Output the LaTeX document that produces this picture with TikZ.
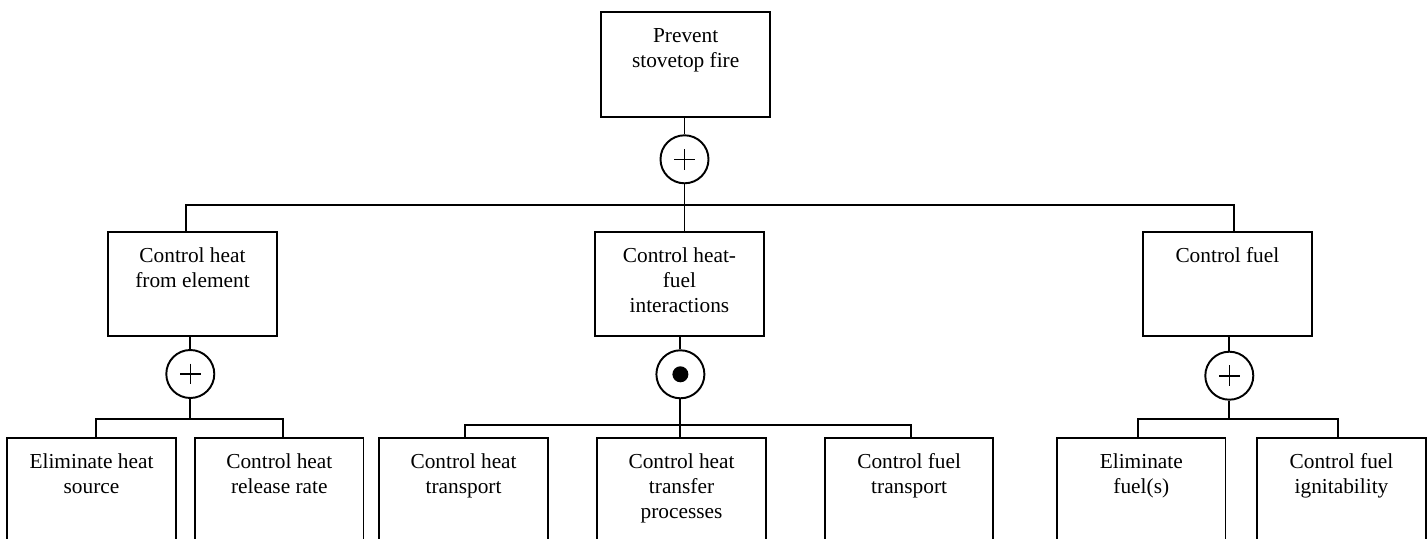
\documentclass[tikz,border=0pt]{standalone}
\usepackage{fontspec}
\setmainfont{Liberation Serif}
\newcommand\goalfont{\fontsize{16}{18.75}\selectfont}
\begin{document}
\begin{tikzpicture}[x=0.75pt, y=-0.75pt, line width=1.45pt,
  goal/.style={draw, rectangle, minimum width=126.3pt, minimum height=78pt, inner sep=0pt},
  goaltext/.style={anchor=north, inner sep=0pt, align=center, font=\goalfont},
  gate/.style={draw, circle, minimum size=36pt, inner sep=0pt},
  ]
\useasboundingbox (0,0) rectangle (1428,539);
\clip (0,0) rectangle (1428,539);

% top goal
\node[goal, minimum height=78.5pt] (T) at (685.65,64.35) {};
\node[goaltext] (Tt) at ([yshift=-9.7pt]T.north) {\strut Prevent\\stovetop fire};
\node[gate] (C0) at (684.5,159.3) {};

% first-level goals
\node[goal] (L) at (192.5,284.15) {};
\node[goal] (M) at (679.45,284.15) {};
\node[goal] (R) at (1227.35,284.15) {};
\node[goaltext] (Lt) at ([yshift=-9.7pt]L.north) {\strut Control heat\\from element};
\node[goaltext] (Mt) at ([yshift=-9.7pt]M.north) {\strut Control heat-\\fuel\\interactions};
\node[goaltext] (Rt) at ([yshift=-9.7pt]R.north) {\strut Control fuel};

\node[gate] (G1) at (190.3,374) {};
\node[gate] (G2) at (680.4,374.3) {};
\node[gate] (G3) at (1229.3,375.7) {};

% second-level goals
\node[goal] (A) at (91.5,490.3) {};
\node[goal] (B) at (279.3,490.3) {};
\node[goal] (C) at (463.6,490.3) {};
\node[goal] (D) at (681.55,490.3) {};
\node[goal] (E) at (909.15,490.3) {};
\node[goal] (F) at (1141.3,490.3) {};
\node[goal] (G) at (1341.5,490.3) {};
\node[goaltext] (At) at ([yshift=-9.7pt]A.north) {\strut Eliminate heat\\source};
\node[goaltext] (Bt) at ([yshift=-9.7pt]B.north) {\strut Control heat\\release rate};
\node[goaltext] (Ct) at ([yshift=-9.7pt]C.north) {\strut Control heat\\transport};
\node[goaltext] (Dt) at ([yshift=-9.7pt]D.north) {\strut Control heat\\transfer\\processes};
\node[goaltext] (Et) at ([yshift=-9.7pt]E.north) {\strut Control fuel\\transport};
\node[goaltext] (Ft) at ([yshift=-9.7pt]F.north) {\strut Eliminate\\fuel(s)};
\node[goaltext] (Gt) at ([yshift=-9.7pt]G.north) {\strut Control fuel\\ignitability};

% gate symbols
\foreach \g in {C0,G1,G3}{
  \draw[line width=1.2pt] (\g.center) +(-10.3,0) -- +(10.3,0);
  \draw[line width=1.2pt] (\g.center) +(0,-10.3) -- +(0,10.3);
}
\fill (G2.center) circle[radius=6pt];

% bus coordinates
\coordinate (b1L) at (186,205);
\coordinate (b1M) at (684.5,205);
\coordinate (b1R) at (1233.7,205);
\coordinate (b2La) at (96.3,419.3);
\coordinate (b2Lb) at (282.7,419.3);
\coordinate (b2Ma) at (465.4,425.3);
\coordinate (b2Mc) at (911.2,425.3);
\coordinate (b2Ra) at (1138,419.3);
\coordinate (b2Rb) at (1338,419.3);

% top level connectors
\draw (T.south -| C0) -- (C0.north);
\draw (C0.south) -- (b1M) -- (b1M |- M.north);
\draw (L.north -| b1L) -- (b1L) -- (b1R) -- (b1R |- R.north);

% first level to gates
\draw (L.south -| G1) -- (G1.north);
\draw (M.south -| G2) -- (G2.north);
\draw (R.south -| G3) -- (G3.north);

% gates to second level
\draw (G1.south) -- (G1 |- b2La);
\draw (A.north -| b2La) -- (b2La) -- (b2Lb) -- (b2Lb |- B.north);
\draw (G2.south) -- (D.north -| G2);
\draw (C.north -| b2Ma) -- (b2Ma) -- (b2Mc) -- (b2Mc |- E.north);
\draw (G3.south) -- (G3 |- b2Ra);
\draw (F.north -| b2Ra) -- (b2Ra) -- (b2Rb) -- (b2Rb |- G.north);
\end{tikzpicture}
\end{document}
